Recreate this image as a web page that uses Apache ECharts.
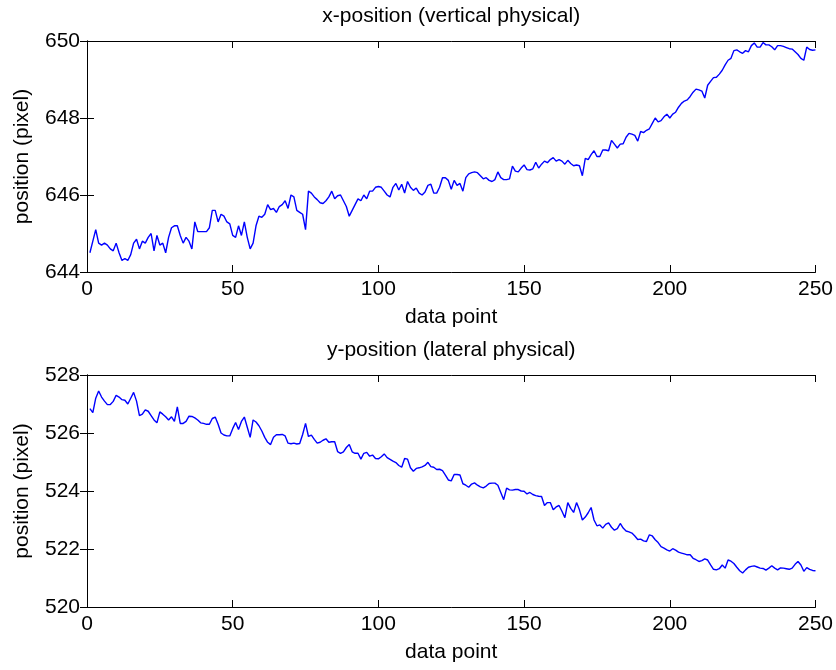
<!DOCTYPE html>
<html>
<head>
<meta charset="utf-8">
<script src="https://cdn.jsdelivr.net/npm/echarts@6/dist/echarts.min.js"></script>
<style>
html,body{margin:0;padding:0;background:#fff;}
#chart{width:836px;height:670px;}
</style>
</head>
<body>
<div id="chart"></div>
<script>
var titleTop = 'x-position (vertical physical)';
var titleBottom = 'y-position (lateral physical)';
var xAxisName = 'data point';
var yAxisName = 'position (pixel)';
var xTicks = [0, 50, 100, 150, 200, 250];
var yTicksTop = [644, 646, 648, 650];
var yTicksBottom = [520, 522, 524, 526, 528];

var xPosition = [
644.5,644.8,645.1,644.75,644.7,644.75,644.7,644.6,644.55,644.75,
644.5,644.3,644.35,644.3,644.45,644.75,644.85,644.6,644.8,644.75,
644.9,645.0,644.55,644.95,644.7,644.75,644.5,644.9,645.15,645.2,
645.2,644.95,644.75,644.9,644.8,644.6,645.3,645.05,645.05,645.05,
645.05,645.15,645.6,645.6,645.3,645.5,645.45,645.3,645.25,644.95,
644.9,645.2,644.95,645.3,644.9,644.6,644.75,645.2,645.45,645.42,
645.5,645.75,645.62,645.65,645.55,645.7,645.75,645.85,645.65,646.0,
645.95,645.6,645.55,645.5,645.1,646.1,646.05,645.95,645.88,645.8,
645.78,645.85,645.95,646.1,645.9,645.98,646.0,645.85,645.7,645.45,
645.6,645.75,645.9,645.85,646.0,645.9,646.1,646.1,646.2,646.22,
646.2,646.1,646.0,645.95,646.2,646.3,646.13,646.28,646.05,646.35,
646.2,646.12,646.18,646.05,646.0,646.08,646.25,646.28,646.05,646.05,
646.2,646.45,646.45,646.38,646.15,646.38,646.25,646.3,646.1,646.45,
646.55,646.58,646.6,646.58,646.5,646.42,646.45,646.38,646.35,646.4,
646.6,646.45,646.4,646.4,646.42,646.75,646.62,646.6,646.7,646.78,
646.66,646.65,646.68,646.85,646.7,646.8,646.88,646.84,646.92,646.97,
646.88,646.92,646.88,646.8,646.9,646.82,646.76,646.78,646.76,646.5,
646.95,646.92,647.05,647.15,647.0,647.0,647.17,647.17,647.15,647.42,
647.32,647.22,647.32,647.33,647.5,647.6,647.58,647.55,647.4,647.65,
647.62,647.68,647.72,647.86,648.0,647.9,647.93,648.03,648.1,648.0,
648.1,648.15,648.28,648.38,648.44,648.47,648.56,648.67,648.75,648.73,
648.7,648.52,648.85,648.95,649.05,649.06,649.14,649.24,649.38,649.5,
649.55,649.75,649.77,649.72,649.68,649.75,649.72,649.88,649.95,649.84,
649.84,649.96,649.9,649.9,649.85,649.77,649.88,649.88,649.86,649.83,
649.8,649.79,649.72,649.65,649.55,649.5,649.84,649.78,649.76,649.77
];

var yPosition = [
526.84,526.7,527.2,527.45,527.24,527.1,526.98,526.98,527.09,527.3,
527.24,527.15,527.13,527.0,527.2,527.4,527.1,526.6,526.65,526.8,
526.75,526.6,526.45,526.35,526.73,526.65,526.56,526.45,526.56,526.4,
526.9,526.33,526.33,526.4,526.58,526.57,526.52,526.45,526.35,526.33,
526.3,526.3,526.5,526.55,526.3,526.0,525.93,525.9,525.9,526.15,
526.36,526.12,526.4,526.55,526.2,525.85,526.45,526.38,526.25,526.07,
525.85,525.68,525.6,525.85,525.94,525.94,525.95,525.9,525.65,525.63,
525.65,525.62,525.64,525.95,526.33,525.88,525.93,525.78,525.65,525.68,
525.75,525.8,525.68,525.7,525.7,525.36,525.3,525.35,525.5,525.6,
525.35,525.3,525.3,525.1,525.3,525.33,525.2,525.24,525.12,525.11,
525.18,525.28,525.15,525.09,525.03,524.98,524.88,524.82,525.12,525.1,
524.8,524.68,524.78,524.8,524.83,524.88,524.99,524.84,524.82,524.74,
524.75,524.7,524.55,524.38,524.35,524.57,524.57,524.55,524.25,524.2,
524.13,524.24,524.28,524.2,524.14,524.11,524.17,524.26,524.27,524.27,
524.2,523.95,523.7,524.1,524.04,524.03,524.05,524.05,524.0,523.99,
523.9,523.95,523.88,523.84,523.82,523.81,523.5,523.6,523.6,523.35,
523.45,523.5,523.3,523.08,523.6,523.4,523.26,523.6,523.35,523.0,
523.1,523.25,523.43,523.0,522.8,522.83,522.72,522.85,522.9,522.75,
522.65,522.7,522.88,522.72,522.62,522.59,522.55,522.45,522.33,522.34,
522.28,522.26,522.49,522.45,522.32,522.22,522.08,522.03,521.97,521.93,
522.01,521.96,521.89,521.86,521.83,521.8,521.8,521.68,521.63,521.57,
521.6,521.66,521.62,521.45,521.3,521.28,521.32,521.45,521.34,521.62,
521.58,521.5,521.37,521.25,521.17,521.28,521.37,521.4,521.42,521.38,
521.34,521.33,521.27,521.34,521.42,521.34,521.28,521.35,521.34,521.32,
521.3,521.34,521.47,521.57,521.45,521.23,521.36,521.3,521.26,521.25
];

function pairs(arr){ var out=[]; for(var i=0;i<arr.length;i++){ out.push([i+1, arr[i]]); } return out; }

var FONT = 'Liberation Sans, Arial, sans-serif';
var FS = 21;
var axisLine = {show:true, lineStyle:{color:'#000', width:1}};
var tickIn = {show:true, inside:true, length:7, lineStyle:{color:'#000', width:1}};

function xBottom(gi){
  return {gridIndex:gi, type:'value', position:'bottom', min:xTicks[0], max:xTicks[xTicks.length-1], interval:xTicks[1]-xTicks[0],
    axisLine:axisLine, axisTick:tickIn, splitLine:{show:false},
    axisLabel:{color:'#000', fontFamily:FONT, fontSize:FS, margin:7},
    name:xAxisName, nameLocation:'middle', nameGap:35,
    nameTextStyle:{color:'#000', fontFamily:FONT, fontSize:FS}};
}
function xTop(gi, title){
  return {gridIndex:gi, type:'value', position:'top', min:xTicks[0], max:xTicks[xTicks.length-1], interval:xTicks[1]-xTicks[0],
    axisLine:axisLine, axisTick:tickIn, splitLine:{show:false}, axisLabel:{show:false},
    name:title, nameLocation:'middle', nameGap:14,
    nameTextStyle:{color:'#000', fontFamily:FONT, fontSize:FS}};
}
function yLeft(gi, ticks){
  return {gridIndex:gi, type:'value', position:'left', min:ticks[0], max:ticks[ticks.length-1], interval:ticks[1]-ticks[0],
    axisLine:axisLine, axisTick:tickIn, splitLine:{show:false},
    axisLabel:{color:'#000', fontFamily:FONT, fontSize:FS, margin:7},
    name:yAxisName, nameLocation:'middle', nameGap:54, nameRotate:90,
    nameTextStyle:{color:'#000', fontFamily:FONT, fontSize:FS}};
}
function yRight(gi, ticks){
  return {gridIndex:gi, type:'value', position:'right', min:ticks[0], max:ticks[ticks.length-1], interval:ticks[1]-ticks[0],
    axisLine:axisLine, axisTick:tickIn, splitLine:{show:false}, axisLabel:{show:false}};
}

var chart = echarts.init(document.getElementById('chart'), null, {renderer:'canvas'});
chart.setOption({
  animation:false,
  backgroundColor:'#fff',
  grid:[
    {left:87, top:41, width:730, height:231},
    {left:87, top:375, width:730, height:232}
  ],
  xAxis:[xBottom(0), xTop(0, titleTop), xBottom(1), xTop(1, titleBottom)],
  yAxis:[yLeft(0, yTicksTop), yRight(0, yTicksTop), yLeft(1, yTicksBottom), yRight(1, yTicksBottom)],
  series:[
    {type:'line', xAxisIndex:0, yAxisIndex:0, data:pairs(xPosition), showSymbol:false, symbol:'none',
     lineStyle:{color:'#0000ff', width:1.4}, z:5},
    {type:'line', xAxisIndex:2, yAxisIndex:2, data:pairs(yPosition), showSymbol:false, symbol:'none',
     lineStyle:{color:'#0000ff', width:1.4}, z:5}
  ]
});
</script>
</body>
</html>
